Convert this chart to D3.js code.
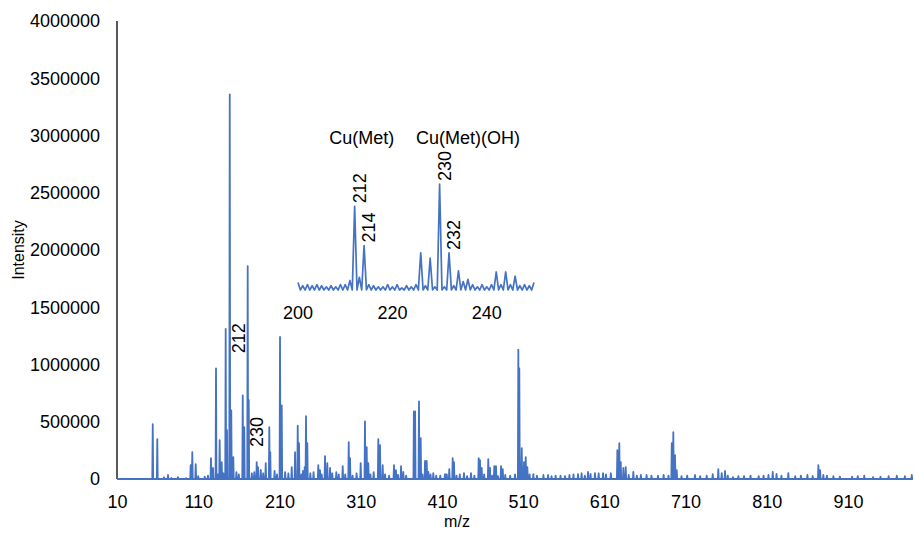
<!DOCTYPE html>
<html><head><meta charset="utf-8">
<script src="https://cdn.jsdelivr.net/npm/d3@7/dist/d3.min.js"></script>
<style>
body{margin:0;background:#fff;}
text{font-family:"Liberation Sans",Arial,sans-serif;fill:#000;}
</style></head>
<body><svg id="c" width="915" height="533"></svg>
<script>
// ---- main spectrum peaks (axis m/z units, intensity) ----
const peakMz = [54,59.6,72.8,85,100.7,102.7,106.9,125.7,128.2,131.9,136.4,138.9,143.8,145.4,148.8,150.7,153.2,
164.8,166.7,170.9,172.2,182,183.6,193.1,197.5,198.7,210.7,212.8,225.1,229.2,232.5,234.1,241.1,242.7,244.3,
257.8,259.9,266.1,268.9,272.3,287.9,295.3,296.9,310,315.3,317.4,319.4,331.7,333.8,337.1,351,353.5,359.7,362.5,
375.5,377,381.8,383.9,389.2,391.3,393.3,399.4,413.8,419.1,423.3,424.9,437.2,445.8,455.3,456.9,459,467.1,469.2,
474.5,476.6,482.8,484.9,504.1,505.3,508.3,511.1,513.2,515.2,522.6,540.7,561.6,577.6,589.9,598.5,608.4,
626,628.4,630.2,633.4,636.3,645.7,693,694.9,697,699.1,721.6,743.4,750.3,754.5,758.6,768.4,817.3,836.5,
866.5,873.5,875.6,879.6,940.8,988.5];
const peakInt = [478000,348000,35000,17000,122000,235000,130000,183000,96000,965000,339000,148000,1310000,426000,3360000,600000,191000,
730000,452000,1860000,690000,148000,104000,139000,452000,235000,1240000,643000,104000,235000,465000,313000,104000,548000,313000,
122000,78000,200000,139000,96000,113000,322000,183000,139000,504000,278000,139000,348000,296000,122000,122000,78000,113000,61000,
591000,591000,678000,357000,157000,157000,61000,52000,43000,87000,183000,148000,52000,52000,183000,165000,96000,174000,96000,
113000,113000,113000,87000,1130000,965000,270000,148000,191000,104000,43000,35000,26000,43000,61000,52000,52000,
252000,313000,148000,96000,104000,61000,313000,409000,209000,78000,35000,43000,87000,52000,70000,17000,61000,52000,
26000,122000,78000,35000,17000,35000];
// low-level noise across the spectrum
const noiseMz = [68,77,95,110,118,122,134,141,157,160,176,179,187,190,204,207,217,221,237,239,248,252,262,275,280,283,291,300,305,322,
326,340,345,356,366,386,396,403,408,416,428,432,441,450,462,472,479,488,494,500,518,527,535,545,550,556,567,572,582,586,593,603,612,618,
640,650,655,662,668,676,683,689,705,712,728,736,762,775,782,790,800,806,812,822,828,845,852,860,884,892,900,915,922,930,950,960,970,980];
const noiseInt = [15000,10000,8000,25000,20000,30000,40000,50000,60000,40000,50000,60000,80000,50000,70000,40000,60000,50000,40000,70000,50000,60000,40000,50000,60000,40000,40000,30000,50000,40000,
60000,40000,30000,35000,30000,40000,40000,30000,30000,40000,30000,40000,25000,30000,40000,30000,25000,35000,30000,40000,40000,30000,35000,25000,30000,30000,35000,40000,50000,30000,45000,50000,40000,50000,
35000,30000,35000,35000,30000,30000,35000,30000,25000,30000,25000,30000,30000,25000,25000,30000,25000,30000,35000,45000,30000,25000,30000,35000,30000,25000,20000,20000,25000,30000,20000,25000,30000,25000];
const xTicks = [10,110,210,310,410,510,610,710,810,910];
const yTicks = [0,500000,1000000,1500000,2000000,2500000,3000000,3500000,4000000];
const mainLabels = ["212","230"];
const mainLabelMz = [160.2,182.4];
const mainLabelInt = [1230000,410000];

// ---- inset (m/z 200-250, relative intensity) ----
const insetMz = d3.range(200,251);
const insetInt = [7,4,5,4,5,4,3,4,3,5,5,9,79,12,42,5,4,3,3,5,3,5,2,4,3,5,35,4,30,3,100,3,35,4,18,8,10,5,3,5,3,5,17,5,17,5,13,4,5,4,7];
const insetTicks = [200,220,240];
const insetPeakLabels = ["212","214","230","232"];
const insetGroups = ["Cu(Met)","Cu(Met)(OH)"];
const insetGroupMz = [213.5,236];

const svg = d3.select("#c");
const blue = "#4472C4";
const fs = "18px";
const x = d3.scaleLinear().domain([10,990]).range([117,913]);
const y = d3.scaleLinear().domain([0,4000000]).range([479,21]);

// axis lines
svg.append("line").attr("x1",117).attr("x2",913).attr("y1",479).attr("y2",479).attr("stroke","#222").attr("stroke-width",1.5);
svg.append("line").attr("x1",117).attr("x2",117).attr("y1",21).attr("y2",479).attr("stroke","#222").attr("stroke-width",1.5);

// spectrum vertices
let verts = [];
const w = 0.55;
function addPeak(m,h){ verts.push([m-w,0],[m,h],[m+w,0]); }
peakMz.forEach((m,i)=>addPeak(m,peakInt[i]));
noiseMz.forEach((m,i)=>addPeak(m,noiseInt[i]));
verts.push([10,0],[990,0]);
verts.sort((a,b)=>a[0]-b[0]);
const line = d3.line().x(d=>x(d[0])).y(d=>y(d[1]));
svg.append("path").datum(verts).attr("d",line).attr("fill","none").attr("stroke",blue).attr("stroke-width",1.8).attr("stroke-linejoin","round");

// axes labels
const xAxis = d3.axisBottom(x).tickValues(xTicks).tickSize(0).tickPadding(16).tickFormat(d3.format("d"));
const gx = svg.append("g").attr("transform","translate(0,479)").call(xAxis);
gx.select(".domain").remove();
gx.selectAll("text").style("font-size",fs).attr("fill","#000");
const yAxis = d3.axisLeft(y).tickValues(yTicks).tickSize(0).tickPadding(17).tickFormat(d3.format("d"));
const gy = svg.append("g").attr("transform","translate(117,0)").call(yAxis);
gy.select(".domain").remove();
gy.selectAll("text").style("font-size",fs).attr("fill","#000");

svg.append("text").attr("x",457).attr("y",527).attr("text-anchor","middle").style("font-size","16px").text("m/z");
svg.append("text").attr("transform","translate(24,250) rotate(-90)").attr("text-anchor","middle").style("font-size","16px").text("Intensity");

mainLabels.forEach((t,i)=>{
  svg.append("text").attr("transform",`translate(${x(mainLabelMz[i])},${y(mainLabelInt[i])}) rotate(-90)`)
    .attr("text-anchor","middle").attr("dominant-baseline","central").style("font-size",fs).text(t);
});

// inset
const xi = d3.scaleLinear().domain([200,250]).range([298,534]);
const yi = d3.scaleLinear().domain([0,100]).range([290,184]);
let iv = [];
insetMz.forEach((m,i)=>{ iv.push([m,insetInt[i]]); if(i<insetMz.length-1) iv.push([m+0.5,0]); });
svg.append("path").datum(iv).attr("d",d3.line().x(d=>xi(d[0])).y(d=>yi(d[1])))
  .attr("fill","none").attr("stroke",blue).attr("stroke-width",1.7).attr("stroke-linejoin","round");
insetTicks.forEach(t=>{
  svg.append("text").attr("x",xi(t)).attr("y",313).attr("text-anchor","middle").attr("dominant-baseline","central").style("font-size",fs).text(t);
});
insetPeakLabels.forEach(t=>{
  const m = +t; const v = insetInt[insetMz.indexOf(m)];
  svg.append("text").attr("transform",`translate(${xi(m)+5},${yi(v)-3}) rotate(-90)`)
    .attr("text-anchor","start").attr("dominant-baseline","central").style("font-size",fs).text(t);
});
insetGroups.forEach((t,i)=>{
  svg.append("text").attr("x",xi(insetGroupMz[i])).attr("y",138).attr("text-anchor","middle").attr("dominant-baseline","central").style("font-size",fs).text(t);
});
</script></body></html>
